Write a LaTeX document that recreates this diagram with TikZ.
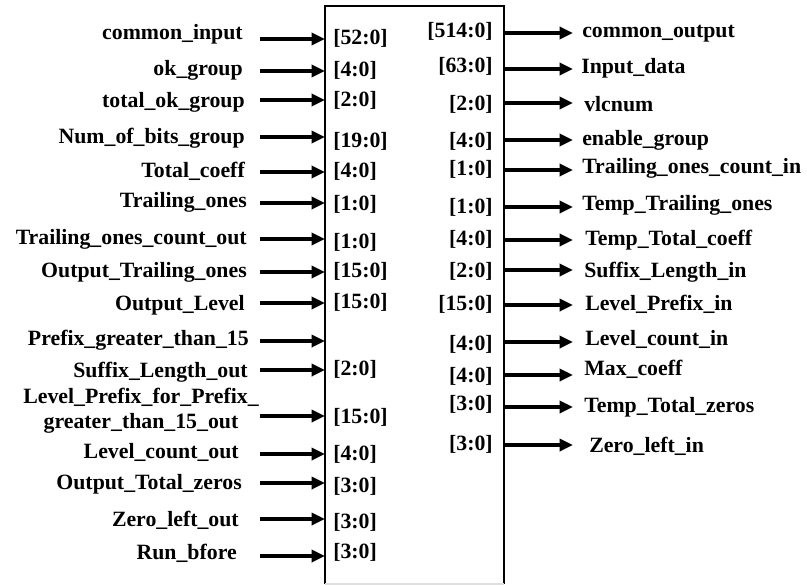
\documentclass[tikz,border=0pt]{standalone}
\usepackage{fontspec}
\setmainfont{Liberation Serif}
\usetikzlibrary{arrows.meta}
\begin{document}
\begin{tikzpicture}[x=0.75pt,y=-0.75pt,
  sig/.style={line width=2.5pt,-{Triangle[length=10pt,width=9pt]}},
  lbl/.style={font=\bfseries\fontsize{16.35}{18.75}\selectfont,inner sep=0pt},
  frame/.style={line width=1.5pt}]
\useasboundingbox (0,0) rectangle (807,585);

% module outline (runs off the lower edge)
\coordinate (bnw) at (325,6);
\coordinate (bse) at (504,584);
\draw[frame] (bnw |- bse) -- (bnw) -- (bse |- bnw) -- (bse);
\draw[gray!25,line width=1pt] (bnw |- bse) -- (bse);

% input ports: number/name/text right edge/arrow y/text baseline/width/width baseline
\foreach \i/\txt/\tx/\ay/\ty/\bit/\by in {
  1/common\_input/243/39/40/{[52:0]}/45,
  2/ok\_group/243/71/76/{[4:0]}/77,
  3/total\_ok\_group/245/100/108/{[2:0]}/107,
  4/Num\_of\_bits\_group/245/137/143/{[19:0]}/147,
  5/Total\_coeff/245/172/177/{[4:0]}/177,
  6/Trailing\_ones/247/203/207/{[1:0]}/210,
  7/Trailing\_ones\_count\_out/247/239/244/{[1:0]}/248,
  8/Output\_Trailing\_ones/247/272/277/{[15:0]}/277,
  9/Output\_Level/245/303/310/{[15:0]}/308,
  10/Prefix\_greater\_than\_15/249/341/345/{}/345,
  11/Suffix\_Length\_out/248/370/377/{[2:0]}/375,
  13/Level\_count\_out/239/454/458/{[4:0]}/460,
  14/Output\_Total\_zeros/242/483/489/{[3:0]}/492,
  15/Zero\_left\_out/239/519/526/{[3:0]}/528,
  16/Run\_bfore/237/556/559/{[3:0]}/558}
{
  \node[lbl,anchor=base east] (L\i) at (\tx,\ty) {\txt};
  \coordinate (LS\i) at (260,\ay);
  \draw[sig] (LS\i) -- (LS\i -| bnw);
  \node[lbl,anchor=base west] (LB\i) at (333,\by) {\bit};
}

% two-line input name (base anchor sits on the last line)
\node[lbl,align=center,anchor=base] (L12) at (141,428)
  {Level\_Prefix\_for\_Prefix\_\\greater\_than\_15\_out};
\coordinate (LS12) at (260,416);
\draw[sig] (LS12) -- (LS12 -| bnw);
\node[lbl,anchor=base west] (LB12) at (333,423) {[15:0]};

% output ports: number/name/text left edge/arrow y/text baseline/width/width baseline
\foreach \i/\txt/\tx/\ay/\ty/\bit/\by in {
  1/common\_output/582/33/38/{[514:0]}/38,
  2/Input\_data/581/69/74/{[63:0]}/73,
  3/vlcnum/584/103/112/{[2:0]}/110,
  4/enable\_group/582/140/145/{[4:0]}/147,
  5/Trailing\_ones\_count\_in/582/170/173/{[1:0]}/175,
  6/Temp\_Trailing\_ones/582/207/210/{[1:0]}/213,
  7/Temp\_Total\_coeff/585/240/245/{[4:0]}/245,
  8/Suffix\_Length\_in/584/270/277/{[2:0]}/277,
  9/Level\_Prefix\_in/585/305/310/{[15:0]}/310,
  10/Level\_count\_in/585/342/345/{[4:0]}/350,
  11/Max\_coeff/584/375/375/{[4:0]}/382,
  12/Temp\_Total\_zeros/584/407/412/{[3:0]}/410,
  13/Zero\_left\_in/589/445/452/{[3:0]}/450}
{
  \node[lbl,anchor=base west] (R\i) at (\tx,\ty) {\txt};
  \coordinate (RE\i) at (573,\ay);
  \draw[sig] (RE\i -| bse) -- (RE\i);
  \node[lbl,anchor=base east] (RB\i) at (493,\by) {\bit};
}
\end{tikzpicture}
\end{document}
